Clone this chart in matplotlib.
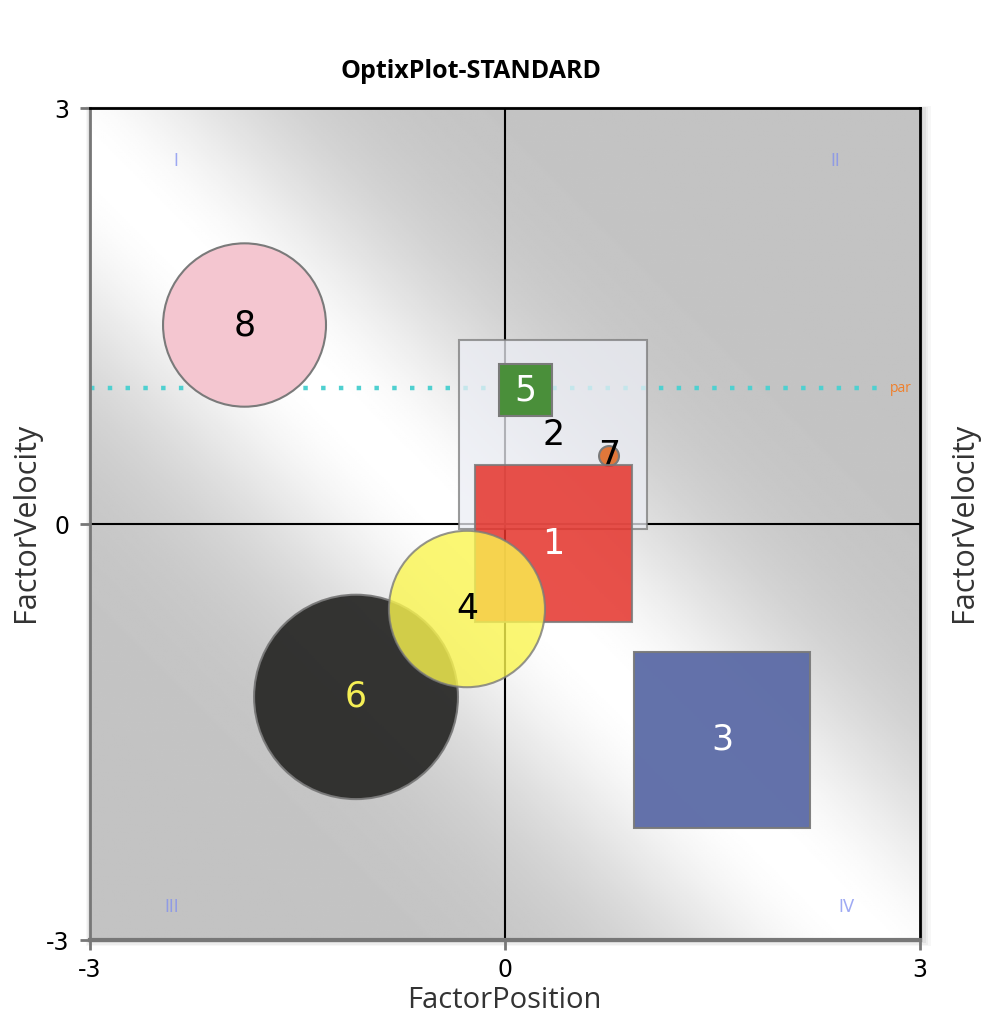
import numpy as np
import matplotlib
matplotlib.use("Agg")
import matplotlib.pyplot as plt
from matplotlib.patches import Rectangle, Circle

# bubble data (data units)
names = ['1', '2', '3', '4', '5', '6', '7', '8']
pos_x = [0.35, 0.35, 1.57, -0.275, 0.148, -1.077, 0.752, -1.883]
pos_y = [-0.141, 0.645, -1.557, -0.613, 0.966, -1.247, 0.49, 1.435]
half_size = [0.567, 0.68, 0.636, 0.564, 0.19, 0.737, 0.072, 0.589]
shapes = ['square', 'square', 'square', 'circle', 'square', 'circle', 'circle', 'circle']
fills = ['#e5332b', '#eceef5', '#5b6aa6', '#faf550', '#4a8f3a', '#2a2a28', '#e0773a', '#f4c6d0']
alphas = [0.85, 0.75, 0.95, 0.8, 1.0, 0.95, 1.0, 1.0]
text_cols = ['white', 'black', 'white', 'black', 'white', '#f5ef55', 'black', 'black']
zorders = [6, 3, 6, 8, 5, 7, 5, 2]

par_value = 0.98
quad_labels = ['I', 'II', 'III', 'IV']
quad_x = [-2.38, 2.39, -2.41, 2.47]
quad_y = [2.62, 2.62, -2.76, -2.76]
ticks = [-3, 0, 3]

fig = plt.figure(figsize=(9.82, 10.14), dpi=100)
ax = fig.add_axes([90/982, 74/1014, 830/982, 832/1014])
ax.set_zorder(2)

# soft shadow around the plot box
for i, a in enumerate([0.03, 0.04, 0.05, 0.06]):
    d = (4 - i) * 2.5
    fig.patches.append(Rectangle(((90 - d*0.4)/982, (74 - d*0.6)/1014),
                                 (830 + d*1.5)/982, (832 + d*0.8)/1014,
                                 transform=fig.transFigure, color='black',
                                 alpha=a, lw=0, zorder=-1))

# gradient background, white band along y = -x
gx, gy = np.meshgrid(np.linspace(-3, 3, 400), np.linspace(-3, 3, 400))
shade = 0.765 + 0.235 * np.exp(-((gx + gy + 0.35) / 1.6) ** 2)
ax.imshow(shade, extent=[-3, 3, -3, 3], origin='lower', cmap='gray',
          vmin=0, vmax=1, aspect='auto', zorder=0)

ax.axhline(0, color='black', lw=1.5, zorder=1)
ax.axvline(0, color='black', lw=1.5, zorder=1)

ax.plot([-3, 2.77], [par_value, par_value], color='#4fd0d0', lw=3.2,
        linestyle=(0, (1, 3)), dash_capstyle='butt', zorder=2)
ax.text(2.78, par_value, 'par', color='#f07f2a', fontsize=10,
        va='center', ha='left', family='Open Sans', zorder=2)

for q, qx, qy in zip(quad_labels, quad_x, quad_y):
    ax.text(qx, qy, q, color='#7f8ef0', alpha=0.75, fontsize=12,
            ha='center', va='center', family='DejaVu Sans', zorder=1)

for n, x, y, h, s, fc, a, tc, z in zip(names, pos_x, pos_y, half_size, shapes,
                                        fills, alphas, text_cols, zorders):
    if s == 'square':
        p = Rectangle((x - h, y - h), 2*h, 2*h, facecolor=fc, alpha=a,
                      edgecolor='#7a7a7a', lw=1.5, zorder=z)
    else:
        p = Circle((x, y), h, facecolor=fc, alpha=a, edgecolor='#7a7a7a',
                   lw=1.5, zorder=z)
    ax.add_patch(p)
    ax.text(x, y, n, color=tc, fontsize=25, ha='center', va='center',
            family='DejaVu Sans', zorder=z + 0.5)

ax.set_xlim(-3, 3)
ax.set_ylim(-3, 3)
ax.set_xticks(ticks)
ax.set_yticks(ticks)
ax.set_xticklabels([str(t) for t in ticks], fontsize=17)
ax.set_yticklabels([str(t) for t in ticks], fontsize=17)
ax.tick_params(length=7, width=2, color='#777777', pad=8)
ax.tick_params(axis='x', pad=6)
ax.spines['left'].set_color('#777777')
ax.spines['left'].set_linewidth(2)
ax.spines['bottom'].set_color('#777777')
ax.spines['bottom'].set_linewidth(3)
ax.spines['top'].set_color('black')
ax.spines['top'].set_linewidth(2)
ax.spines['right'].set_color('black')
ax.spines['right'].set_linewidth(2)

fig.text(471/982, 0.929, 'OptixPlot-STANDARD', fontsize=18, fontweight='bold',
         ha='center', va='center', family='Open Sans')
fig.text(504/982, -0.001, 'FactorPosition', fontsize=21, color='#333333',
         ha='center', va='bottom', family='Open Sans')
fig.text(26/982, 0.485, 'FactorVelocity', fontsize=22, color='#333333',
         rotation=90, ha='center', va='center', family='Open Sans')
fig.text(964/982, 0.485, 'FactorVelocity', fontsize=22, color='#333333',
         rotation=90, ha='center', va='center', family='Open Sans')

fig.savefig('out.png', dpi=100)
